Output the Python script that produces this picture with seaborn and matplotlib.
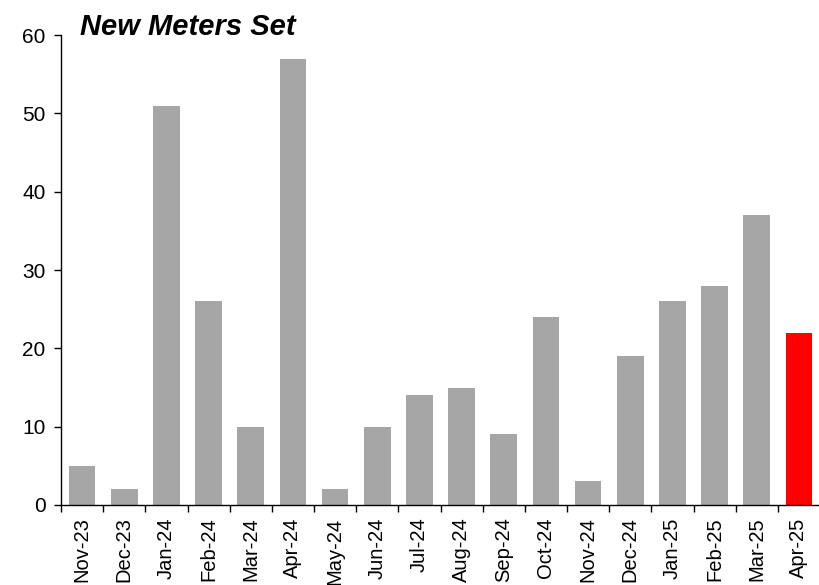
import numpy as np
import matplotlib
matplotlib.use("Agg")
import matplotlib.pyplot as plt
import seaborn as sns

# chart data
months = ["Nov-23", "Dec-23", "Jan-24", "Feb-24", "Mar-24", "Apr-24", "May-24", "Jun-24",
          "Jul-24", "Aug-24", "Sep-24", "Oct-24", "Nov-24", "Dec-24", "Jan-25", "Feb-25",
          "Mar-25", "Apr-25"]
meters = [5, 2, 51, 26, 10, 57, 2, 10, 14, 15, 9, 24, 3, 19, 26, 28, 37, 22]
# last month highlighted in red
bar_colors = ["#A6A6A6"] * (len(months) - 1) + ["#FF0000"]

sns.set_style("white")
plt.rcParams["font.family"] = ["Liberation Sans", "DejaVu Sans"]
plt.rcParams["text.color"] = "black"
plt.rcParams["xtick.color"] = "black"
plt.rcParams["ytick.color"] = "black"

fig = plt.figure(figsize=(8.2, 5.85), dpi=100)
ax = fig.add_axes([0.0744, 0.1368, 0.9256, 0.8032])

sns.barplot(x=months, y=meters, hue=months, palette=bar_colors, legend=False,
            width=0.63, saturation=1, linewidth=0, ax=ax)

ax.set_ylim(0, 60)
ax.set_xlim(-0.5, len(months) - 0.5)
ax.set_yticks(np.arange(0, 61, 10))
ax.tick_params(axis="y", which="major", direction="out", length=5, width=1,
               color="black", labelsize=15, pad=6, left=True, labelcolor="black")

# x ticks between categories
ax.set_xticks(np.arange(-0.5, len(months), 1.0), minor=True)
ax.tick_params(axis="x", which="major", length=0, labelsize=14.5, pad=9, rotation=90,
               labelcolor="black")
ax.tick_params(axis="x", which="minor", direction="out", length=5, width=1,
               color="black", bottom=True)

for s in ["top", "right"]:
    ax.spines[s].set_visible(False)
for s in ["left", "bottom"]:
    ax.spines[s].set_color("black")
    ax.spines[s].set_linewidth(1)

ax.set_xlabel("")
ax.set_ylabel("")

fig.text(0.097, 1 - 35 / 585, "New Meters Set", fontsize=21, fontweight="bold",
         fontstyle="italic", va="baseline", ha="left", color="black")

fig.savefig("out.png", dpi=100)
